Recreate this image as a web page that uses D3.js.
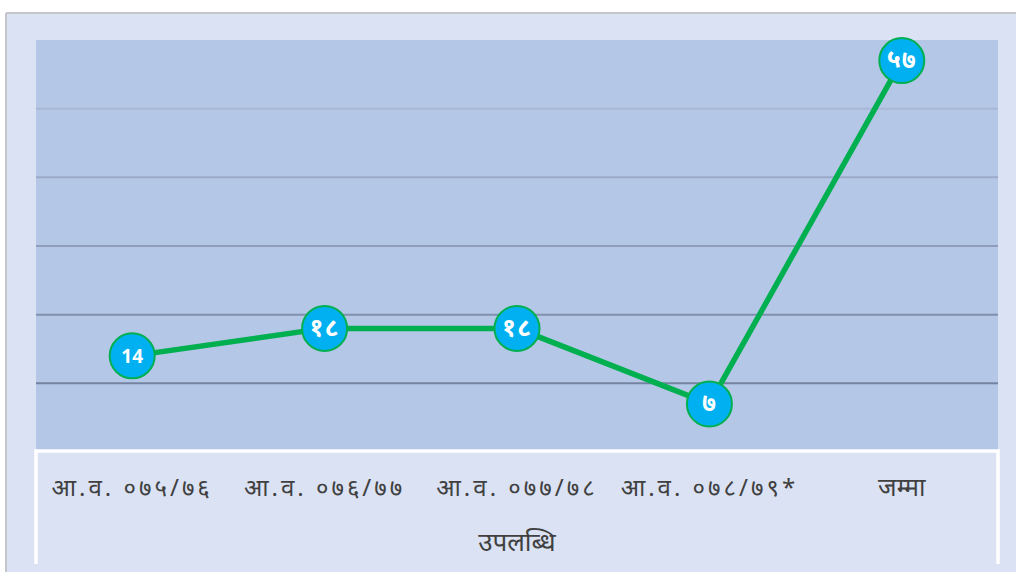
<!DOCTYPE html>
<html>
<head>
<meta charset="utf-8">
<script src="https://cdn.jsdelivr.net/npm/d3@7"></script>
<style>
  html, body { margin: 0; padding: 0; background: #ffffff; }
  svg { display: block; }
  text { font-family: "Noto Sans", "Noto Sans Devanagari", "Lohit Devanagari", sans-serif; }
</style>
</head>
<body>
<svg id="chart" width="1016" height="572"></svg>
<script>
// Achievement by fiscal year
const categories = ["आ.व. ०७५/७६", "आ.व. ०७६/७७", "आ.व. ०७७/७८", "आ.व. ०७८/७९*", "जम्मा"];
const values = [14, 18, 18, 7, 57];
const valueLabels = ["14", "१८", "१८", "७", "५७"];
const gridTicks = [10, 20, 30, 40, 50];
const axisTitle = "उपलब्धि";

const svg = d3.select("#chart");
const W = 1016, H = 572;

const plot = { left: 36, right: 998, top: 40, bottom: 450 };

// Chart background with thin gray border at top and left
svg.append("rect").attr("x", 0).attr("y", 0).attr("width", W).attr("height", H).attr("fill", "#ffffff");
svg.append("rect").attr("x", 7).attr("y", 13).attr("width", W - 7).attr("height", H - 13).attr("fill", "#dae2f3");
svg.append("line").attr("x1", 6).attr("x2", W).attr("y1", 13).attr("y2", 13).attr("stroke", "#c4c6ca").attr("stroke-width", 2);
svg.append("line").attr("x1", 6).attr("x2", 6).attr("y1", 13).attr("y2", H).attr("stroke", "#c4c6ca").attr("stroke-width", 2);

const x = d3.scaleBand().domain(categories).range([plot.left, plot.right]);
const y = d3.scaleLinear().domain([0, 60]).range([452, 40]);

// Plot area
svg.append("rect")
  .attr("x", plot.left).attr("y", plot.top)
  .attr("width", plot.right - plot.left).attr("height", plot.bottom - plot.top)
  .attr("fill", "#b4c7e7");

// Horizontal gridlines, darkening toward the bottom
const gridColor = d3.scaleLinear().domain([50, 10]).range(["#a9b7d4", "#74839f"]);
svg.append("g")
  .selectAll("line")
  .data(gridTicks)
  .join("line")
  .attr("x1", plot.left).attr("x2", plot.right)
  .attr("y1", d => y(d)).attr("y2", d => y(d))
  .attr("stroke", d => gridColor(d))
  .attr("stroke-width", 2);

// White frame around the category axis area
svg.append("path")
  .attr("d", `M${plot.left},564 L${plot.left},451 L${plot.right},451 L${plot.right},564`)
  .attr("fill", "none")
  .attr("stroke", "#ffffff")
  .attr("stroke-width", 3.5);

// Category labels (fiscal-year labels are spaced out, the total label is not)
const isYear = d => /[०-९]/.test(d);
const xAxis = svg.append("g")
  .attr("transform", `translate(0,${475})`)
  .call(d3.axisBottom(x).tickSize(0).tickPadding(0));
xAxis.select(".domain").remove();
xAxis.selectAll("text")
  .attr("dy", "0")
  .attr("y", 21)
  .attr("fill", "#404040")
  .attr("font-size", d => isYear(d) ? "24px" : "25px")
  .attr("letter-spacing", d => isYear(d) ? "3px" : "0px")
  .style("font-family", "'Noto Sans', 'Noto Sans Devanagari', sans-serif");

// Axis title
svg.append("text")
  .attr("x", (plot.left + plot.right) / 2)
  .attr("y", 551)
  .attr("text-anchor", "middle")
  .attr("fill", "#404040")
  .attr("font-size", "26px")
  .text(axisTitle);

// Line series
const cx = (d, i) => x(categories[i]) + x.bandwidth() / 2;
const line = d3.line()
  .x((d, i) => cx(d, i))
  .y(d => y(d));

svg.append("path")
  .datum(values)
  .attr("d", line)
  .attr("fill", "none")
  .attr("stroke", "#00b050")
  .attr("stroke-width", 5.5)
  .attr("stroke-linejoin", "round");

// Markers with value labels
const pts = svg.append("g")
  .selectAll("g")
  .data(values)
  .join("g")
  .attr("transform", (d, i) => `translate(${cx(d, i)},${y(d)})`);

pts.append("circle")
  .attr("r", 22.5)
  .attr("fill", "#00b0f0")
  .attr("stroke", "#00b050")
  .attr("stroke-width", 2);

pts.append("text")
  .attr("text-anchor", "middle")
  .attr("dy", (d, i) => i === 0 ? "0.35em" : "0.3em")
  .attr("fill", "#ffffff")
  .attr("font-size", (d, i) => i === 0 ? "19px" : "25px")
  .attr("font-weight", "bold")
  .attr("letter-spacing", (d, i) => i === 0 ? "0px" : "1px")
  .text((d, i) => valueLabels[i]);
</script>
</body>
</html>
